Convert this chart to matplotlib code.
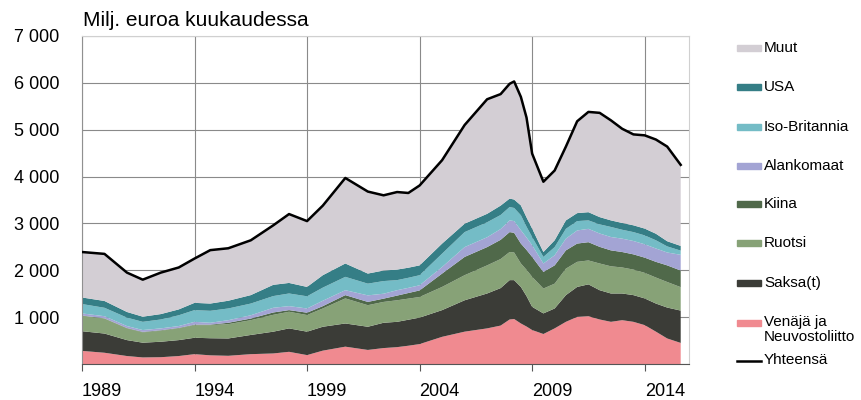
import numpy as np
import matplotlib.pyplot as plt
from matplotlib.patches import Rectangle
from matplotlib.lines import Line2D
from matplotlib.ticker import FuncFormatter

plt.rcParams['font.family'] = ['Liberation Sans', 'DejaVu Sans']

years = [1989.0, 1990.0, 1991.0, 1991.7, 1992.5, 1993.3, 1994.0, 1994.7, 1995.5, 1996.5,
         1997.5, 1998.2, 1999.0, 1999.7, 2000.7, 2001.7, 2002.4, 2003.0, 2003.5, 2004.0,
         2005.0, 2006.0, 2007.0, 2007.6, 2008.0, 2008.2, 2008.5, 2008.75, 2009.0, 2009.5,
         2010.0, 2010.5, 2011.0, 2011.5, 2012.0, 2012.5, 2013.0, 2013.5, 2014.0, 2014.5,
         2015.0, 2015.6]

venaja = [280, 240, 170, 140, 145, 170, 210, 185, 175, 210,
          225, 260, 190, 285, 370, 300, 340, 360, 390, 425,
          580, 690, 760, 820, 950, 960, 865, 800, 725, 640,
          760, 900, 1005, 1020, 950, 900, 935, 900, 830, 690,
          545, 450]
saksa = [420, 410, 340, 315, 330, 340, 350, 365, 370, 410,
         465, 500, 500, 510, 495, 495, 540, 540, 555, 565,
         570, 670, 745, 800, 840, 830, 780, 650, 495, 440,
         425, 570, 640, 680, 625, 605, 570, 570, 570, 600,
         660, 690]
ruotsi = [330, 320, 250, 220, 235, 250, 270, 280, 305, 315,
          360, 355, 355, 390, 535, 460, 445, 460, 450, 440,
          495, 535, 600, 620, 600, 590, 500, 560, 640, 530,
          530, 565, 535, 510, 570, 580, 555, 545, 545, 555,
          545, 500]
kiina = [5, 5, 8, 10, 10, 10, 10, 10, 30, 35,
         50, 35, 50, 50, 70, 70, 70, 100, 120, 140,
         285, 390, 390, 410, 425, 420, 425, 425, 425, 355,
         390, 390, 390, 390, 355, 340, 330, 325, 325, 335,
         355, 355]
alankomaat = [45, 45, 42, 40, 40, 40, 60, 40, 55, 70,
              100, 85, 90, 115, 105, 140, 105, 115, 110, 110,
              140, 210, 210, 230, 250, 250, 285, 265, 250, 180,
              215, 250, 280, 285, 285, 285, 285, 285, 285, 285,
              275, 335]
iso_britannia = [200, 180, 180, 175, 190, 230, 250, 255, 250, 250,
                 250, 270, 260, 280, 285, 250, 270, 215, 215, 215,
                 285, 320, 320, 300, 285, 280, 320, 230, 175, 140,
                 175, 210, 200, 180, 195, 215, 190, 190, 190, 175,
                 130, 90]
usa = [140, 145, 120, 110, 115, 125, 155, 155, 165, 180,
       240, 225, 200, 265, 285, 215, 225, 225, 215, 210,
       215, 180, 180, 200, 180, 180, 210, 200, 180, 105,
       145, 180, 170, 175, 155, 140, 145, 145, 145, 140,
       110, 100]
muut = [970, 1005, 840, 790, 885, 895, 945, 1140, 1120, 1170,
        1270, 1470, 1405, 1485, 1825, 1750, 1605, 1655, 1595, 1705,
        1780, 2105, 2445, 2380, 2450, 2520, 2315, 2130, 1600, 1500,
        1490, 1575, 1960, 2140, 2225, 2135, 2010, 1940, 1990, 2010,
        2020, 1730]

labels = ['Venäjä ja\nNeuvostoliitto', 'Saksa(t)', 'Ruotsi', 'Kiina',
          'Alankomaat', 'Iso-Britannia', 'USA', 'Muut']
colors = ['#F08A90', '#3B3C37', '#87A277', '#50694A',
          '#A3A4D4', '#74BCC6', '#357E86', '#D3CED4']
series = [venaja, saksa, ruotsi, kiina, alankomaat, iso_britannia, usa, muut]
total = np.sum(np.array(series), axis=0)

fig = plt.figure(figsize=(8.61, 4.0), dpi=100)
ax = fig.add_axes([0.0952, 0.09, 0.7048, 0.82])

ax.stackplot(years, *series, colors=colors, linewidth=0, zorder=2)
ax.plot(years, total, color='black', lw=1.8, solid_joinstyle='round', zorder=3)

ax.set_xlim(1989, 2015.96)
ax.set_ylim(0, 7000)
ax.set_xticks([1989, 1994, 1999, 2004, 2009, 2014])
ax.set_yticks(range(0, 7001, 1000))
ax.yaxis.set_major_formatter(FuncFormatter(lambda v, p: '' if v == 0 else f'{int(v):,}'.replace(',', ' ')))
ax.tick_params(axis='x', labelsize=13, length=5, color='#555555', pad=9)
ax.tick_params(axis='y', labelsize=13, length=0, pad=16)
for lab in ax.get_xticklabels():
    lab.set_horizontalalignment('left')
ax.grid(True, color='#8a8a8a', lw=0.8, zorder=0)
ax.set_axisbelow(True)
for s in ['top', 'right']:
    ax.spines[s].set_color('#d0d0d0')
ax.spines['left'].set_color('#909090')
ax.spines['bottom'].set_color('#555555')

fig.text(83 / 861, 1 - 21 / 400, 'Milj. euroa kuukaudessa', fontsize=15, va='center', ha='left')

# legend drawn by hand to keep the original spacing
leg_y = [48, 87, 127, 166, 204, 243, 283, 323]
order = [7, 6, 5, 4, 3, 2, 1, 0]
for yy, i in zip(leg_y, order):
    fig.add_artist(Rectangle((737 / 861, 1 - (yy + 3) / 400), 24 / 861, 6 / 400,
                             transform=fig.transFigure, color=colors[i]))
    if i == 0:
        fig.text(764 / 861, 1 - (yy - 8) / 400, labels[i], fontsize=11, va='top',
                 ha='left', linespacing=1.1)
    else:
        fig.text(764 / 861, 1 - yy / 400, labels[i], fontsize=11, va='center', ha='left')
fig.add_artist(Line2D([737 / 861, 761 / 861], [1 - 361 / 400, 1 - 361 / 400],
                      transform=fig.transFigure, color='black', lw=1.8))
fig.text(764 / 861, 1 - 360 / 400, 'Yhteensä', fontsize=11, va='center', ha='left')

fig.savefig('out.png', dpi=100)
